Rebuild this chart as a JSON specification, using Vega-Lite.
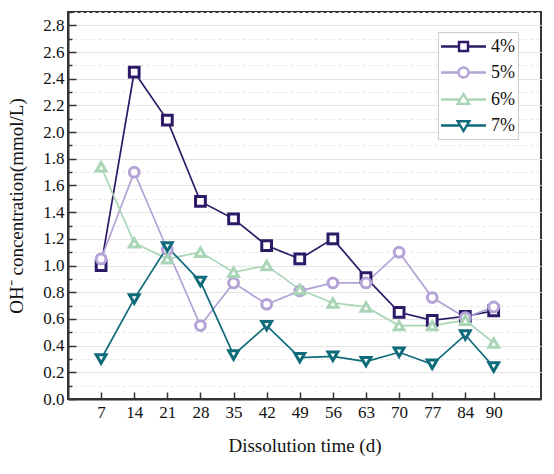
{
  "$schema": "https://vega.github.io/schema/vega-lite/v6.json",
  "width": 473,
  "height": 387,
  "autosize": "none",
  "padding": {"left": 68, "top": 12, "right": 13, "bottom": 75},
  "background": "white",
  "config": {
    "view": {"stroke": "#333333", "strokeWidth": 2},
    "font": "Liberation Serif"
  },
  "data": {
    "values": [
      {"t": 7, "s": "4%", "v": 1.0}, {"t": 14, "s": "4%", "v": 2.45}, {"t": 21, "s": "4%", "v": 2.09}, {"t": 28, "s": "4%", "v": 1.48}, {"t": 35, "s": "4%", "v": 1.35}, {"t": 42, "s": "4%", "v": 1.15}, {"t": 49, "s": "4%", "v": 1.05}, {"t": 56, "s": "4%", "v": 1.2}, {"t": 63, "s": "4%", "v": 0.91}, {"t": 70, "s": "4%", "v": 0.65}, {"t": 77, "s": "4%", "v": 0.59}, {"t": 84, "s": "4%", "v": 0.62}, {"t": 90, "s": "4%", "v": 0.66},
      {"t": 7, "s": "5%", "v": 1.05}, {"t": 14, "s": "5%", "v": 1.7}, {"t": 21, "s": "5%", "v": 1.12}, {"t": 28, "s": "5%", "v": 0.55}, {"t": 35, "s": "5%", "v": 0.87}, {"t": 42, "s": "5%", "v": 0.71}, {"t": 49, "s": "5%", "v": 0.81}, {"t": 56, "s": "5%", "v": 0.87}, {"t": 63, "s": "5%", "v": 0.87}, {"t": 70, "s": "5%", "v": 1.1}, {"t": 77, "s": "5%", "v": 0.76}, {"t": 84, "s": "5%", "v": 0.61}, {"t": 90, "s": "5%", "v": 0.69},
      {"t": 7, "s": "6%", "v": 1.74}, {"t": 14, "s": "6%", "v": 1.17}, {"t": 21, "s": "6%", "v": 1.05}, {"t": 28, "s": "6%", "v": 1.1}, {"t": 35, "s": "6%", "v": 0.95}, {"t": 42, "s": "6%", "v": 1.0}, {"t": 49, "s": "6%", "v": 0.82}, {"t": 56, "s": "6%", "v": 0.72}, {"t": 63, "s": "6%", "v": 0.69}, {"t": 70, "s": "6%", "v": 0.55}, {"t": 77, "s": "6%", "v": 0.55}, {"t": 84, "s": "6%", "v": 0.59}, {"t": 90, "s": "6%", "v": 0.42},
      {"t": 7, "s": "7%", "v": 0.3}, {"t": 14, "s": "7%", "v": 0.75}, {"t": 21, "s": "7%", "v": 1.14}, {"t": 28, "s": "7%", "v": 0.88}, {"t": 35, "s": "7%", "v": 0.33}, {"t": 42, "s": "7%", "v": 0.55}, {"t": 49, "s": "7%", "v": 0.31}, {"t": 56, "s": "7%", "v": 0.32}, {"t": 63, "s": "7%", "v": 0.28}, {"t": 70, "s": "7%", "v": 0.35}, {"t": 77, "s": "7%", "v": 0.26}, {"t": 84, "s": "7%", "v": 0.48}, {"t": 90, "s": "7%", "v": 0.24}
    ]
  },
  "encoding": {
    "x": {
      "field": "t", "type": "quantitative",
      "scale": {"domain": [0, 100], "nice": false, "zero": false},
      "axis": {
        "title": "Dissolution time (d)",
        "values": [7, 14, 21, 28, 35, 42, 49, 56, 63, 70, 77, 84, 90],
        "grid": false,
        "tickSize": -7, "tickWidth": 1.5, "tickColor": "#333333",
        "domainColor": "#333333", "domainWidth": 2,
        "labelFont": "Liberation Serif", "labelFontSize": 17, "labelColor": "#111111", "labelPadding": 12,
        "titleFont": "Liberation Serif", "titleFontSize": 19, "titleFontWeight": "normal", "titleColor": "#111111", "titlePadding": 16
      }
    },
    "y": {
      "field": "v", "type": "quantitative",
      "scale": {"domain": [0, 2.9], "nice": false},
      "axis": {
        "title": "OH⁻ concentration(mmol/L)",
        "values": [0, 0.1, 0.2, 0.3, 0.4, 0.5, 0.6, 0.7, 0.8, 0.9, 1.0, 1.1, 1.2, 1.3, 1.4, 1.5, 1.6, 1.7, 1.8, 1.9, 2.0, 2.1, 2.2, 2.3, 2.4, 2.5, 2.6, 2.7, 2.8, 2.9],
        "labelExpr": "round(datum.value*10) % 2 == 0 ? format(datum.value, '.1f') : ''",
        "grid": true,
        "gridColor": {"condition": {"test": "round(datum.value*10) % 2 == 1", "value": "#e6e6e6"}, "value": "#e4e4e4"},
        "gridDash": {"condition": {"test": "round(datum.value*10) % 2 == 1", "value": [3, 3]}, "value": []},
        "gridWidth": 1,
        "tickSize": {"condition": {"test": "round(datum.value*10) % 2 == 1", "value": -4}, "value": -8},
        "tickWidth": 1.5, "tickColor": "#333333",
        "domainColor": "#333333", "domainWidth": 2,
        "labelFont": "Liberation Serif", "labelFontSize": 17, "labelColor": "#111111", "labelPadding": 12,
        "titleFont": "Liberation Serif", "titleFontSize": 19, "titleFontWeight": "normal", "titleColor": "#111111", "titlePadding": 16
      }
    }
  },
  "layer": [
    {
      "mark": {"type": "line", "strokeWidth": 1.7},
      "encoding": {
        "color": {"field": "s", "type": "nominal", "legend": null,
          "scale": {"domain": ["4%", "5%", "6%", "7%"], "range": ["#2c1a66", "#b3a3d6", "#a9d5b6", "#0f6a7a"]}}
      }
    },
    {
      "mark": {"type": "point", "filled": false, "fill": "white", "fillOpacity": 1, "strokeWidth": 3, "size": 95, "opacity": 1},
      "encoding": {
        "color": {"field": "s", "type": "nominal", "legend": null},
        "shape": {
          "field": "s", "type": "nominal", "legend": null,
          "scale": {"domain": ["4%", "5%", "6%", "7%"], "range": ["square", "circle", "triangle-up", "triangle-down"]}
        }
      }
    },
    {
      "mark": {"type": "point", "filled": false, "strokeWidth": 2, "opacity": 0},
      "encoding": {
        "color": {"field": "s", "type": "nominal",
          "legend": {
            "title": null,
            "orient": "none", "legendX": 370, "legendY": 20,
            "symbolSize": 400, "symbolStrokeWidth": 2.4, "symbolOpacity": 1, "symbolFillColor": "white",
            "symbolOffset": 11,
            "labelFont": "Liberation Serif", "labelFontSize": 18, "labelColor": "#111111", "labelOffset": 16,
            "rowPadding": 5,
            "strokeColor": "#cccccc", "fillColor": "white", "padding": 3
          }
        },
        "shape": {
          "field": "s", "type": "nominal",
          "scale": {"domain": ["4%", "5%", "6%", "7%"], "range": [
            "M-2.25,0H-0.45M0.45,0H2.25M-0.45,-0.45H0.45V0.45H-0.45Z",
            "M-2.25,0H-0.5M0.5,0H2.25M-0.5,0A0.5,0.5 0 1,0 0.5,0A0.5,0.5 0 1,0 -0.5,0Z",
            "M-2.25,0H-0.3M0.3,0H2.25M0,-0.55L0.58,0.42H-0.58Z",
            "M-2.25,0H-0.3M0.3,0H2.25M0,0.55L0.58,-0.42H-0.58Z"
          ]},
          "legend": {
            "title": null,
            "orient": "none", "legendX": 370, "legendY": 20,
            "symbolSize": 400, "symbolStrokeWidth": 2.4, "symbolOpacity": 1, "symbolFillColor": "white",
            "symbolOffset": 11,
            "labelFont": "Liberation Serif", "labelFontSize": 18, "labelColor": "#111111", "labelOffset": 16,
            "rowPadding": 5,
            "strokeColor": "#cccccc", "fillColor": "white", "padding": 3
          }
        }
      }
    }
  ],
  "resolve": {"scale": {"shape": "independent"}, "legend": {"shape": "independent", "color": "independent"}}
}
